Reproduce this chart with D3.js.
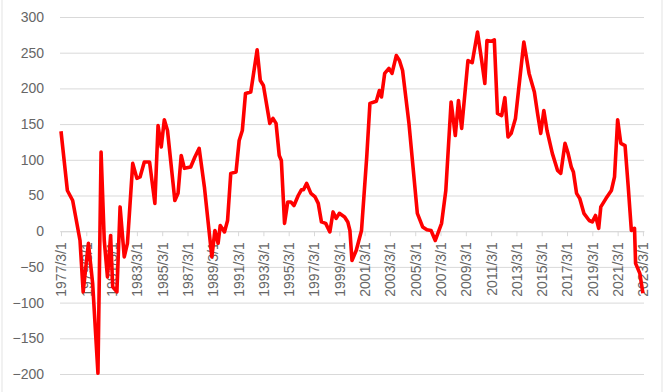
<!DOCTYPE html>
<html>
<head>
<meta charset="utf-8">
<script src="https://cdn.jsdelivr.net/npm/d3@7"></script>
<style>
  body { margin: 0; background: #fff; }
  svg { display: block; font-family: "Liberation Sans", Arial, sans-serif; }
</style>
</head>
<body>
<script>
// month of each reading and its value
const months = [
  '1977-03','1977-09','1978-02','1978-09','1978-12','1979-05','1979-09','1980-02','1980-05','1980-08',
  '1980-11','1981-02','1981-04','1981-08','1981-11','1982-03','1982-06','1982-11','1983-03','1983-06',
  '1983-10','1984-03','1984-08','1984-11','1985-02','1985-05','1985-08','1986-03','1986-06','1986-09',
  '1986-12','1987-06','1987-10','1988-02','1988-07','1988-12','1989-02','1989-05','1989-08','1989-10',
  '1990-02','1990-05','1990-08','1991-01','1991-04','1991-07','1991-10','1992-03','1992-09','1992-12',
  '1993-03','1993-09','1993-12','1994-03','1994-06','1994-08','1994-11','1995-02','1995-05','1995-08',
  '1995-12','1996-03','1996-05','1996-08','1996-12','1997-04','1997-07','1997-10','1998-02','1998-06',
  '1998-09','1998-12','1999-03','1999-08','1999-11','2000-01','2000-03','2000-07','2000-12','2001-05',
  '2001-08','2002-02','2002-05','2002-07','2002-10','2003-02','2003-05','2003-09','2003-12','2004-03',
  '2004-09','2005-05','2005-10','2006-02','2006-06','2006-10','2007-04','2007-08','2008-01','2008-05',
  '2008-08','2008-11','2009-05','2009-09','2010-02','2010-06','2010-09','2010-11','2011-03','2011-06',
  '2011-09','2012-01','2012-04','2012-07','2012-10','2013-02','2013-06','2013-10','2014-03','2014-08',
  '2014-11','2015-02','2015-05','2015-08','2016-01','2016-06','2016-09','2017-01','2017-04','2017-07',
  '2017-09','2017-12','2018-03','2018-07','2018-12','2019-03','2019-06','2019-09','2019-11','2020-04',
  '2020-09','2020-12','2021-03','2021-06','2021-10','2022-01','2022-04','2022-07','2022-08','2022-12',
  '2023-03'
];
const values = [
  140, 57, 43, -13, -85, -17, -73, -199, 111, -13,
  -64, -6, -78, -85, 34, -36, -17, 95, 74, 76,
  97, 97, 39, 148, 118, 156, 141, 43, 53, 106,
  88, 90, 104, 116, 62, -8, -36, 1, -17, 8,
  -1, 15, 81, 83, 127, 141, 193, 195, 254, 211,
  204, 151, 158, 151, 106, 99, 11, 41, 41, 36,
  50, 58, 58, 67, 53, 48, 39, 13, 11, -1,
  27, 18, 25, 20, 13, 1, -41, -27, 1, 104,
  179, 182, 197, 188, 221, 228, 221, 246, 239, 225,
  151, 25, 6, 2, 1, -13, 11, 57, 181, 134,
  183, 144, 239, 236, 279, 239, 207, 267, 266, 268,
  165, 162, 187, 132, 137, 158, 211, 265, 221, 195,
  165, 137, 169, 141, 109, 85, 81, 123, 109, 90,
  83, 53, 46, 25, 15, 13, 22, 4, 34, 46,
  57, 76, 156, 123, 120, 62, 1, 4, -45, -59,
  -87
];
const yTicks = [300, 250, 200, 150, 100, 50, 0, -50, -100, -150, -200];
const tickYears = d3.range(1977, 2024, 2);

const width = 669;
const height = 392;
const margins = { top: 17, bottom: 18, left: 61, right: 25 };

const parseMonth = d3.timeParse('%Y-%m');
const data = months.map((m, i) => ({ date: parseMonth(m), value: values[i] }));

const xScale = d3.scaleTime([new Date(1977, 2, 1), new Date(2023, 3, 1)], [margins.left, width - margins.right]);
const yScale = d3.scaleLinear([-200, 300], [height - margins.bottom, margins.top]);

const svg = d3.select('body').append('svg')
  .attr('width', width)
  .attr('height', height);

svg.append('rect')
  .attr('width', width)
  .attr('height', height)
  .attr('fill', '#fff');

// chart frame edges
svg.selectAll('line.frame')
  .data([2, 662])
  .join('line')
  .attr('class', 'frame')
  .attr('x1', d => d).attr('x2', d => d)
  .attr('y1', 0).attr('y2', height)
  .attr('stroke', '#e3e3e3');

// y axis: labels + gridlines
const gy = svg.append('g')
  .attr('transform', `translate(${margins.left - 1}, 0)`)
  .call(d3.axisLeft(yScale)
    .tickValues(yTicks)
    .tickSize(-(width - margins.left - margins.right + 1))
    .tickPadding(16));
gy.select('.domain').remove();
gy.selectAll('line').attr('stroke', '#d9d9d9');
gy.selectAll('text')
  .attr('fill', '#666')
  .attr('font-size', 14);

// x axis sits on zero
const gx = svg.append('g')
  .attr('transform', `translate(0, ${yScale(0)})`)
  .call(d3.axisBottom(xScale)
    .tickValues(tickYears.map(y => new Date(y, 2, 1)))
    .tickFormat(d3.timeFormat('%Y/%-m/%-d'))
    .tickSize(5)
    .tickSizeOuter(0));
gx.select('.domain').attr('stroke', '#d9d9d9');
gx.selectAll('line').attr('stroke', '#d9d9d9');
gx.selectAll('text')
  .attr('fill', '#666')
  .attr('font-size', 14)
  .attr('text-anchor', 'end')
  .attr('transform', 'rotate(-90)')
  .attr('x', -11)
  .attr('y', 0)
  .attr('dy', '0.35em');

// the series
svg.append('path')
  .datum(data)
  .attr('fill', 'none')
  .attr('stroke', '#ff0000')
  .attr('stroke-width', 3.6)
  .attr('stroke-linejoin', 'round')
  .attr('d', d3.line().x(d => xScale(d.date)).y(d => yScale(d.value)));
</script>
</body>
</html>
